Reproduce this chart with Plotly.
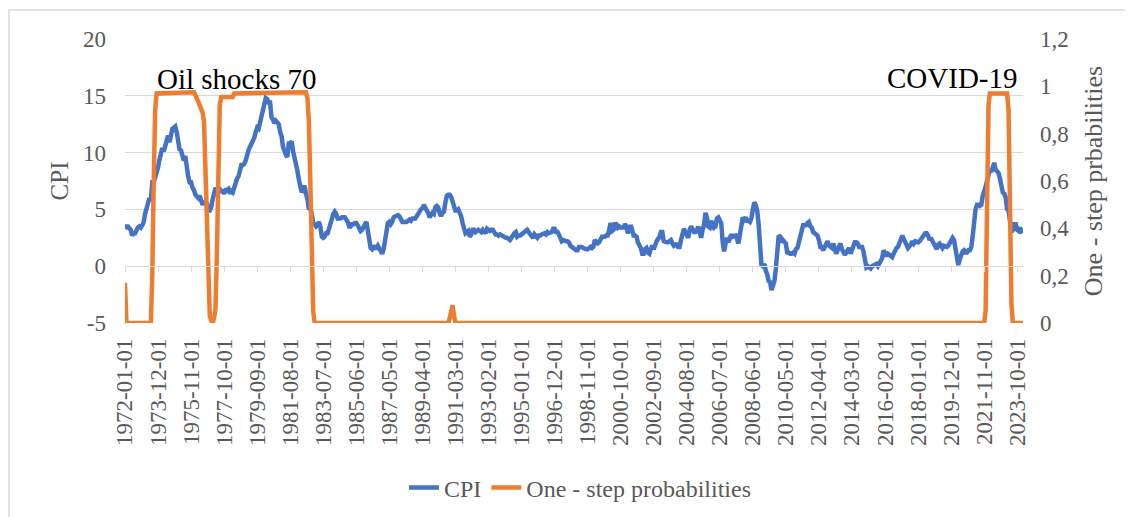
import pandas as pd
import plotly.graph_objects as go

# ---- data ----
start_month = "1972-01-01"
cpi = [
    3.3, 3.5, 3.5, 3.4, 3.2, 2.7, 2.9, 2.9, 3.2, 3.4, 3.5, 3.4,        # 1972
    3.6, 3.9, 4.6, 5.1, 5.5, 6.0, 5.7, 7.4, 7.4, 7.8, 8.3, 8.7,        # 1973
    9.4, 10.0, 10.4, 10.1, 10.7, 10.9, 11.5, 10.9, 11.9, 12.1, 12.2, 12.3,  # 1974
    11.8, 11.2, 10.3, 10.2, 9.5, 9.3, 9.7, 8.6, 7.9, 7.4, 7.4, 6.9,    # 1975
    6.7, 6.3, 6.1, 6.0, 6.2, 5.9, 5.4, 5.7, 5.5, 5.5, 4.9, 4.9,        # 1976
    5.2, 5.9, 6.4, 6.9, 6.7, 6.9, 6.8, 6.6, 6.6, 6.4, 6.7, 6.7,        # 1977
    6.8, 6.4, 6.6, 6.5, 6.9, 7.4, 7.7, 7.9, 8.3, 8.9, 8.9, 9.0,        # 1978
    9.3, 9.9, 10.2, 10.5, 10.8, 10.9, 11.3, 11.8, 12.2, 12.1, 12.6, 13.3,  # 1979
    13.9, 14.2, 14.8, 14.7, 14.4, 14.4, 13.1, 12.9, 12.6, 12.8, 12.6, 12.5,  # 1980
    11.8, 11.4, 10.5, 10.0, 9.8, 9.6, 10.8, 10.8, 11.0, 10.1, 9.6, 8.9,  # 1981
    8.4, 7.6, 6.8, 6.5, 6.7, 7.1, 6.4, 5.9, 5.0, 5.1, 4.6, 3.8,        # 1982
    3.7, 3.5, 3.6, 3.9, 3.5, 2.6, 2.5, 2.6, 2.9, 2.9, 3.3, 3.8,        # 1983
    4.2, 4.6, 4.8, 4.6, 4.2, 4.2, 4.2, 4.3, 4.3, 4.3, 4.1, 3.9,        # 1984
    3.5, 3.5, 3.7, 3.7, 3.8, 3.8, 3.6, 3.3, 3.1, 3.2, 3.5, 3.8,        # 1985
    3.9, 3.1, 2.2, 1.6, 1.5, 1.8, 1.6, 1.6, 1.8, 1.5, 1.3, 1.1,        # 1986
    1.5, 2.1, 3.0, 3.8, 3.9, 3.7, 3.9, 4.3, 4.4, 4.5, 4.5, 4.4,        # 1987
    4.0, 3.9, 3.9, 3.9, 3.9, 4.0, 4.1, 4.0, 4.2, 4.2, 4.2, 4.4,        # 1988
    4.7, 4.8, 5.0, 5.1, 5.4, 5.2, 5.0, 4.7, 4.3, 4.5, 4.7, 4.6,        # 1989
    5.2, 5.3, 5.2, 4.7, 4.4, 4.7, 4.8, 5.6, 6.2, 6.3, 6.3, 6.1,        # 1990
    5.7, 5.3, 4.9, 4.9, 5.0, 4.7, 4.4, 3.8, 3.4, 2.9, 3.0, 3.1,        # 1991
    2.6, 2.8, 3.2, 3.2, 3.0, 3.1, 3.2, 3.1, 3.0, 3.2, 3.0, 2.9,        # 1992
    3.3, 3.2, 3.1, 3.2, 3.2, 3.0, 2.8, 2.8, 2.7, 2.8, 2.7, 2.7,        # 1993
    2.5, 2.5, 2.5, 2.4, 2.3, 2.5, 2.8, 2.9, 3.0, 2.6, 2.7, 2.7,        # 1994
    2.8, 2.9, 2.9, 3.1, 3.2, 3.0, 2.8, 2.6, 2.5, 2.8, 2.6, 2.5,        # 1995
    2.7, 2.7, 2.8, 2.9, 2.9, 2.8, 3.0, 2.9, 3.0, 3.0, 3.3, 3.3,        # 1996
    3.0, 3.0, 2.8, 2.5, 2.2, 2.3, 2.2, 2.2, 2.2, 2.1, 1.8, 1.7,        # 1997
    1.6, 1.4, 1.4, 1.4, 1.7, 1.7, 1.7, 1.6, 1.5, 1.5, 1.5, 1.6,        # 1998
    1.7, 1.6, 1.7, 2.3, 2.1, 2.0, 2.1, 2.3, 2.6, 2.6, 2.6, 2.7,        # 1999
    2.7, 3.2, 3.8, 3.1, 3.2, 3.7, 3.7, 3.4, 3.5, 3.4, 3.4, 3.4,        # 2000
    3.7, 3.5, 2.9, 3.3, 3.6, 3.2, 2.7, 2.7, 2.6, 2.1, 1.9, 1.6,        # 2001
    1.1, 1.1, 1.5, 1.6, 1.2, 1.1, 1.5, 1.8, 1.5, 2.0, 2.2, 2.4,        # 2002
    2.6, 3.0, 3.0, 2.2, 2.1, 2.1, 2.1, 2.2, 2.3, 2.0, 1.8, 1.9,        # 2003
    1.9, 1.7, 1.7, 2.3, 3.1, 3.3, 3.0, 2.7, 2.5, 3.2, 3.5, 3.3,        # 2004
    3.0, 3.0, 3.1, 3.5, 2.8, 2.5, 3.2, 3.6, 4.7, 4.3, 3.5, 3.4,        # 2005
    4.0, 3.6, 3.4, 3.5, 4.2, 4.3, 4.1, 3.8, 2.1, 1.3, 2.0, 2.5,        # 2006
    2.1, 2.4, 2.8, 2.6, 2.7, 2.7, 2.4, 2.0, 2.8, 3.5, 4.3, 4.1,        # 2007
    4.3, 4.0, 4.0, 3.9, 4.2, 5.0, 5.6, 5.4, 4.9, 3.7, 1.1, 0.1,        # 2008
    0.0, 0.2, -0.4, -0.7, -1.3, -1.4, -2.1, -1.5, -1.3, -0.2, 1.8, 2.7,  # 2009
    2.6, 2.1, 2.3, 2.2, 2.0, 1.1, 1.2, 1.1, 1.1, 1.2, 1.1, 1.5,        # 2010
    1.6, 2.1, 2.7, 3.2, 3.6, 3.6, 3.6, 3.8, 3.9, 3.5, 3.4, 3.0,        # 2011
    2.9, 2.9, 2.7, 2.3, 1.7, 1.7, 1.4, 1.7, 2.0, 2.2, 1.8, 1.7,        # 2012
    1.6, 2.0, 1.5, 1.1, 1.4, 1.8, 2.0, 1.5, 1.2, 1.0, 1.2, 1.5,        # 2013
    1.6, 1.1, 1.5, 2.0, 2.1, 2.1, 2.0, 1.7, 1.7, 1.7, 1.3, 0.8,        # 2014
    -0.1, 0.0, -0.1, -0.2, 0.0, 0.1, 0.2, 0.2, 0.0, 0.2, 0.5, 0.7,     # 2015
    1.4, 1.0, 0.9, 1.1, 1.0, 1.0, 0.8, 1.1, 1.5, 1.6, 1.7, 2.1,        # 2016
    2.5, 2.7, 2.4, 2.2, 1.9, 1.6, 1.7, 1.9, 2.2, 2.0, 2.2, 2.1,        # 2017
    2.1, 2.2, 2.4, 2.5, 2.8, 2.9, 2.9, 2.7, 2.3, 2.5, 2.2, 1.9,        # 2018
    1.6, 1.5, 1.9, 2.0, 1.8, 1.6, 1.8, 1.7, 1.7, 1.8, 2.1, 2.3,        # 2019
    2.5, 2.3, 1.5, 0.3, 0.1, 0.6, 1.0, 1.3, 1.4, 1.2, 1.2, 1.4,        # 2020
    1.4, 1.7, 2.6, 4.2, 5.0, 5.4, 5.4, 5.3, 5.4, 6.2, 6.8, 7.0,        # 2021
    7.5, 7.9, 8.5, 8.3, 8.6, 9.1, 8.5, 8.3, 8.2, 7.7, 7.1, 6.5,        # 2022
    6.4, 6.0, 5.0, 4.9, 4.0, 3.0, 3.2, 3.7, 3.7, 3.2, 3.1, 3.4,        # 2023
    3.1, 3.2,                                                          # 2024
]

prob_dates = [
    "1972-01", "1972-02", "1973-07", "1973-08", "1973-09", "1973-10", "1973-11",
    "1976-01", "1976-03", "1976-05", "1976-07", "1976-08", "1976-09", "1976-10",
    "1976-11", "1976-12", "1977-01", "1977-02", "1977-03", "1977-04", "1977-05",
    "1977-06", "1977-07", "1977-08", "1978-04", "1978-05", "1982-07", "1982-08",
    "1982-09", "1982-10", "1982-11", "1982-12", "1983-01", "1990-10", "1990-11",
    "1990-12", "1991-01", "1991-02", "1991-03", "2021-11", "2021-12", "2022-01",
    "2022-02", "2022-03", "2023-03", "2023-04", "2023-05", "2023-06", "2023-07",
    "2024-02",
]
prob_values = [
    0.17, 0.0, 0.0, 0.2, 0.6, 0.9, 0.97,
    0.975, 0.95, 0.92, 0.89, 0.85, 0.65, 0.4,
    0.15, 0.03, 0.01, 0.0, 0.02, 0.06, 0.3,
    0.65, 0.92, 0.955, 0.955, 0.97, 0.975, 0.95,
    0.85, 0.6, 0.25, 0.05, 0.0, 0.0, 0.02,
    0.05, 0.075, 0.03, 0.0, 0.0, 0.05, 0.5,
    0.92, 0.97, 0.97, 0.9, 0.5, 0.08, 0.0,
    0.0,
]

tick_labels = [
    "1972-01-01", "1973-12-01", "1975-11-01", "1977-10-01", "1979-09-01",
    "1981-08-01", "1983-07-01", "1985-06-01", "1987-05-01", "1989-04-01",
    "1991-03-01", "1993-02-01", "1995-01-01", "1996-12-01", "1998-11-01",
    "2000-10-01", "2002-09-01", "2004-08-01", "2006-07-01", "2008-06-01",
    "2010-05-01", "2012-04-01", "2014-03-01", "2016-02-01", "2018-01-01",
    "2019-12-01", "2021-11-01", "2023-10-01",
]
left_ticks = [-5, 0, 5, 10, 15, 20]
right_ticks = [0, 0.2, 0.4, 0.6, 0.8, 1.0, 1.2]

series_names = ["CPI", "One - step probabilities"]
annotations_text = ["Oil shocks 70", "COVID-19"]

# ---- build ----
dates = pd.date_range(start_month, periods=len(cpi), freq="MS")
pdates = pd.to_datetime(prob_dates)
x_range = [dates[0], dates[-1]]

FONT = "Liberation Serif"
GREY = "#595959"
GRID = "#d9d9d9"

OFF = 8  # page body margin offset of the rendered figure
W, H = 1133, 517
L, T = 125 - OFF, 39 - OFF
R = W - (1023 - OFF)
B = H - (323 - OFF)
PW, PH = W - L - R, H - T - B


def px(xpix):
    return (xpix - OFF - L) / PW


def py(ypix):
    return (H - B - (ypix - OFF)) / PH


fig = go.Figure()
fig.add_trace(go.Scatter(x=dates, y=cpi, name=series_names[0], mode="lines",
                         line=dict(color="#4472C4", width=4.5), yaxis="y"))
fig.add_trace(go.Scatter(x=pdates, y=prob_values, name=series_names[1], mode="lines",
                         line=dict(color="#ED7D31", width=4.5), yaxis="y2"))
# anchor trace for the category axis drawn at CPI = 0
fig.add_trace(go.Scatter(x=[dates[0]], y=[None], xaxis="x2", yaxis="y",
                         showlegend=False, hoverinfo="skip", mode="lines"))

fig.update_layout(
    template="none",
    width=W, height=H,
    margin=dict(l=L, r=R, t=T, b=B, autoexpand=False),
    paper_bgcolor="white", plot_bgcolor="white",
    separators=", ",
    font=dict(family=FONT, color=GREY, size=22),
    showlegend=True,
    legend=dict(orientation="h", x=px(580), xanchor="center",
                yref="container", y=1 - (488 - OFF) / H, yanchor="middle",
                font=dict(family=FONT, size=24, color=GREY),
                traceorder="normal", bgcolor="rgba(0,0,0,0)"),
    xaxis=dict(type="date", range=x_range, tickvals=pd.to_datetime(tick_labels),
               ticktext=tick_labels, tickangle=-90, showgrid=False, showline=False,
               ticks="", zeroline=False, ticklabelstandoff=10, automargin=False,
               tickfont=dict(family=FONT, size=23, color=GREY)),
    xaxis2=dict(type="date", range=x_range, overlaying="x", anchor="free", position=0.2,
                tickvals=pd.to_datetime(tick_labels), showticklabels=False,
                ticks="outside", ticklen=5, tickcolor=GRID, tickwidth=1,
                showline=True, linecolor=GRID, linewidth=1, showgrid=False,
                zeroline=False, automargin=False),
    yaxis=dict(range=[-5, 20], tickvals=left_ticks, ticktext=[str(v) for v in left_ticks],
               showgrid=True, gridcolor=GRID, gridwidth=1, zeroline=False, ticks="",
               ticklabelstandoff=18, showline=False, automargin=False,
               tickfont=dict(family=FONT, size=23, color=GREY),
               title=dict(text="CPI", font=dict(family=FONT, size=25, color=GREY), standoff=7)),
    yaxis2=dict(range=[0, 1.2], tickvals=right_ticks, overlaying="y", side="right",
                anchor="x", showgrid=False, zeroline=False, ticks="", showline=False,
                ticklabelstandoff=16, automargin=False,
                tickfont=dict(family=FONT, size=23, color=GREY),
                title=dict(text="One - step prbabilities",
                           font=dict(family=FONT, size=26, color=GREY), standoff=15)),
    annotations=[
        dict(text=annotations_text[0], xref="paper", yref="paper",
             x=px(237), y=py(79), xanchor="center", yanchor="middle",
             showarrow=False, font=dict(family=FONT, size=29, color="black")),
        dict(text=annotations_text[1], xref="paper", yref="paper",
             x=px(952), y=py(78), xanchor="center", yanchor="middle",
             showarrow=False, font=dict(family=FONT, size=29, color="black")),
    ],
    shapes=[dict(type="rect", xref="paper", yref="paper",
                 x0=px(9), x1=1.3, y0=-1.0, y1=py(10),
                 line=dict(color=GRID, width=1.5), fillcolor="rgba(0,0,0,0)", layer="below")],
)

fig.write_html("out.html")
